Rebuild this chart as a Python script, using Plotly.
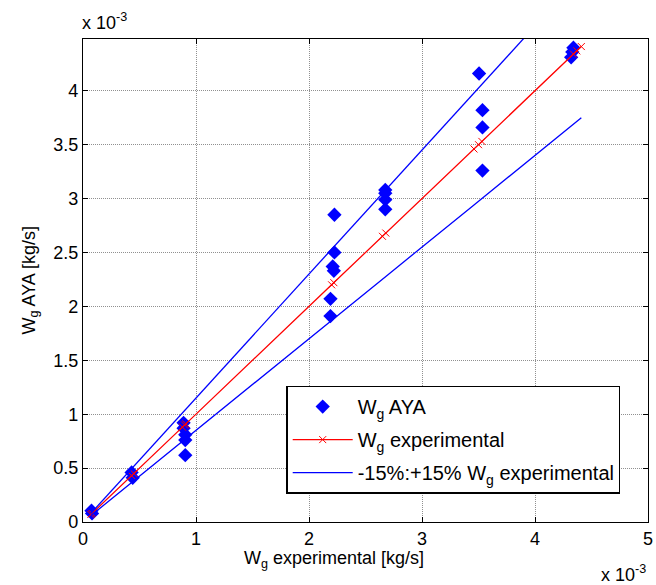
import plotly.graph_objects as go

# Data (x 10^-3 kg/s)
aya_x = [0.075, 0.08, 0.43, 0.44, 0.89, 0.89, 0.905, 0.905, 0.905,
         2.19, 2.19, 2.21, 2.22, 2.225, 2.225,
         2.675, 2.675, 2.675, 2.675,
         3.505, 3.535, 3.535, 3.535,
         4.32, 4.33, 4.34]
aya_y = [0.105, 0.08, 0.46, 0.41, 0.92, 0.87, 0.81, 0.76, 0.62,
         2.07, 1.91, 2.37, 2.33, 2.50, 2.85,
         3.08, 3.05, 2.99, 2.90,
         4.16, 3.82, 3.66, 3.26,
         4.31, 4.36, 4.40]
exp_x = [0.07, 0.08, 0.43, 0.45, 0.88, 0.90, 0.91, 2.20, 2.22,
         2.65, 2.68, 3.46, 3.50, 3.53, 4.34, 4.37, 4.41]
band_low = 0.85
band_high = 1.15

x_ticks = [0, 1, 2, 3, 4, 5]
y_ticks = [0, 0.5, 1, 1.5, 2, 2.5, 3, 3.5, 4]
y_tick_text = ["0", "0.5", "1", "1.5", "2", "2.5", "3", "3.5", "4"]

FONT = "Liberation Sans, Arial, sans-serif"
FS = 18

fig = go.Figure()

fig.add_trace(go.Scatter(
    x=aya_x, y=aya_y, mode="markers", name="W<sub>g</sub> AYA",
    marker=dict(symbol="diamond", size=11, color="#0000ff", line=dict(width=0)),
    legendgroup="a"))

fig.add_trace(go.Scatter(
    x=exp_x, y=exp_x, mode="lines+markers", name="W<sub>g</sub> experimental",
    line=dict(color="#ff0000", width=1.3),
    marker=dict(symbol="x-thin", size=7, color="#ff0000",
                line=dict(color="#ff0000", width=1)),
    legendgroup="b"))

fig.add_trace(go.Scatter(
    x=exp_x, y=[v * band_high for v in exp_x], mode="lines",
    name="-15%:+15% W<sub>g</sub> experimental",
    line=dict(color="#0000ff", width=1.3), legendgroup="c"))

fig.add_trace(go.Scatter(
    x=exp_x, y=[v * band_low for v in exp_x], mode="lines",
    name="-15%", showlegend=False,
    line=dict(color="#0000ff", width=1.3), legendgroup="d"))

axis_common = dict(
    showline=True, linecolor="black", linewidth=1.3, mirror="ticks",
    ticks="inside", ticklen=5, tickcolor="black",
    showgrid=True, gridcolor="#909090", griddash="1px,1px", gridwidth=1,
    zeroline=False, tickfont=dict(family=FONT, size=FS, color="black"),
    ticklabeloverflow="allow",
)

fig.update_xaxes(range=[0, 5], tickvals=x_ticks, ticktext=[str(t) for t in x_ticks],
                 **axis_common)
fig.update_yaxes(range=[0, 4.48], tickvals=y_ticks, ticktext=y_tick_text,
                 **axis_common)

fig.update_layout(
    width=656, height=585,
    margin=dict(l=83, r=3, t=39, b=63),
    paper_bgcolor="white", plot_bgcolor="white",
    font=dict(family=FONT, size=FS, color="black"),
    legend=dict(
        x=0.36, y=0.282, xanchor="left", yanchor="top",
        bgcolor="white", bordercolor="black", borderwidth=1.3,
        font=dict(family=FONT, size=20, color="black"),
        tracegroupgap=4, itemwidth=60,
    ),
    annotations=[
        dict(text="W<sub>g</sub> experimental [kg/s]", xref="paper", yref="paper",
             x=0.444, y=0, yshift=-24, xanchor="center", yanchor="top",
             showarrow=False, font=dict(family=FONT, size=FS)),
        dict(text="W<sub>g</sub> AYA [kg/s]", xref="paper", yref="paper",
             x=0, xshift=-53, y=0.5, xanchor="center", yanchor="middle",
             textangle=-90, showarrow=False, font=dict(family=FONT, size=FS)),
        dict(text="x 10<sup>-3</sup>", xref="paper", yref="paper",
             x=0, y=1, xanchor="left", yanchor="bottom", xshift=-3, yshift=4,
             showarrow=False, font=dict(family=FONT, size=FS)),
        dict(text="x 10<sup>-3</sup>", xref="paper", yref="paper",
             x=1, y=0, xanchor="right", yanchor="top", xshift=0, yshift=-38,
             showarrow=False, font=dict(family=FONT, size=FS)),
    ],
)

fig.write_html("out.html", config={"displayModeBar": False},
               post_script="document.body.style.margin='0';document.body.style.padding='0';")
